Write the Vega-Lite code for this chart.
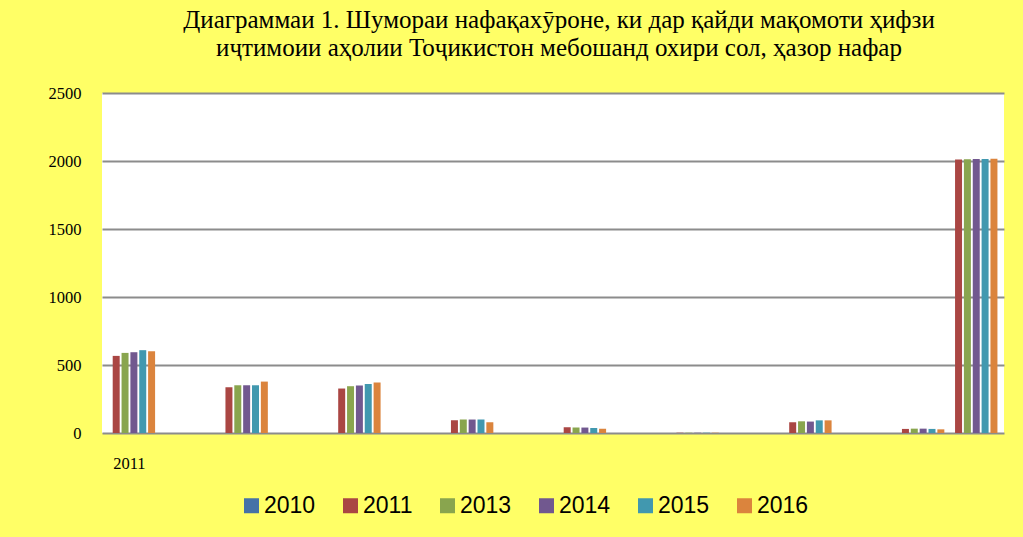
{
  "$schema": "https://vega.github.io/schema/vega-lite/v6.json",
  "width": 902,
  "height": 340,
  "autosize": {"type": "none"},
  "padding": {"left": 102, "top": 93, "right": 19, "bottom": 104},
  "background": "#FFFF66",
  "view": {"fill": "white", "stroke": null},
  "title": {
    "text": ["Диаграммаи 1. Шумораи нафақахӯроне, ки дар қайди мақомоти ҳифзи", "иҷтимоии аҳолии Тоҷикистон мебошанд охири сол, ҳазор нафар"],
    "font": "Liberation Serif",
    "fontSize": 25,
    "fontWeight": "normal",
    "lineHeight": 28,
    "color": "#000000",
    "anchor": "middle",
    "dx": 6,
    "offset": 24
  },
  "data": {
    "values": [
      {"cat": "A", "slot": "s01", "year": "2011", "value": 567},
      {"cat": "A", "slot": "s02", "year": "2013", "value": 589},
      {"cat": "A", "slot": "s03", "year": "2014", "value": 594},
      {"cat": "A", "slot": "s04", "year": "2015", "value": 609},
      {"cat": "A", "slot": "s05", "year": "2016", "value": 601},
      {"cat": "B", "slot": "s01", "year": "2011", "value": 336},
      {"cat": "B", "slot": "s02", "year": "2013", "value": 351},
      {"cat": "B", "slot": "s03", "year": "2014", "value": 351},
      {"cat": "B", "slot": "s04", "year": "2015", "value": 351},
      {"cat": "B", "slot": "s05", "year": "2016", "value": 378},
      {"cat": "C", "slot": "s01", "year": "2011", "value": 327},
      {"cat": "C", "slot": "s02", "year": "2013", "value": 344},
      {"cat": "C", "slot": "s03", "year": "2014", "value": 349},
      {"cat": "C", "slot": "s04", "year": "2015", "value": 361},
      {"cat": "C", "slot": "s05", "year": "2016", "value": 371},
      {"cat": "D", "slot": "s01", "year": "2011", "value": 93},
      {"cat": "D", "slot": "s02", "year": "2013", "value": 99},
      {"cat": "D", "slot": "s03", "year": "2014", "value": 99},
      {"cat": "D", "slot": "s04", "year": "2015", "value": 99},
      {"cat": "D", "slot": "s05", "year": "2016", "value": 79},
      {"cat": "E", "slot": "s01", "year": "2011", "value": 42},
      {"cat": "E", "slot": "s02", "year": "2013", "value": 40},
      {"cat": "E", "slot": "s03", "year": "2014", "value": 40},
      {"cat": "E", "slot": "s04", "year": "2015", "value": 37},
      {"cat": "E", "slot": "s05", "year": "2016", "value": 32},
      {"cat": "F", "slot": "s01", "year": "2011", "value": 2},
      {"cat": "F", "slot": "s02", "year": "2013", "value": 2},
      {"cat": "F", "slot": "s03", "year": "2014", "value": 2},
      {"cat": "F", "slot": "s04", "year": "2015", "value": 2},
      {"cat": "F", "slot": "s05", "year": "2016", "value": 2},
      {"cat": "G", "slot": "s01", "year": "2011", "value": 79},
      {"cat": "G", "slot": "s02", "year": "2013", "value": 86},
      {"cat": "G", "slot": "s03", "year": "2014", "value": 84},
      {"cat": "G", "slot": "s04", "year": "2015", "value": 93},
      {"cat": "G", "slot": "s05", "year": "2016", "value": 93},
      {"cat": "H", "slot": "s01", "year": "2011", "value": 30},
      {"cat": "H", "slot": "s02", "year": "2013", "value": 32},
      {"cat": "H", "slot": "s03", "year": "2014", "value": 32},
      {"cat": "H", "slot": "s04", "year": "2015", "value": 30},
      {"cat": "H", "slot": "s05", "year": "2016", "value": 27},
      {"cat": "H", "slot": "s07", "year": "2011", "value": 2011},
      {"cat": "H", "slot": "s08", "year": "2013", "value": 2013},
      {"cat": "H", "slot": "s09", "year": "2014", "value": 2014},
      {"cat": "H", "slot": "s10", "year": "2015", "value": 2015},
      {"cat": "H", "slot": "s11", "year": "2016", "value": 2016}
    ]
  },
  "mark": {"type": "bar"},
  "encoding": {
    "x": {
      "field": "cat",
      "type": "nominal",
      "scale": {"domain": ["A", "B", "C", "D", "E", "F", "G", "H"], "paddingInner": 0, "paddingOuter": 0},
      "axis": {
        "title": null,
        "labelExpr": "datum.value === 'A' ? '2011' : ''",
        "labelAngle": 0,
        "labelOffset": -29,
        "labelPadding": 22,
        "labelFont": "Liberation Serif",
        "labelFontSize": 16.5,
        "labelColor": "#000000",
        "domain": false,
        "ticks": false,
        "grid": false
      }
    },
    "xOffset": {
      "field": "slot",
      "type": "nominal",
      "scale": {
        "domain": ["s00", "s01", "s02", "s03", "s04", "s05", "s06", "s07", "s08", "s09", "s10", "s11"],
        "paddingInner": 0.21,
        "paddingOuter": 0.475,
        "align": 0.22
      }
    },
    "y": {
      "field": "value",
      "type": "quantitative",
      "scale": {"domain": [0, 2500], "nice": false},
      "axis": {
        "title": null,
        "values": [0, 500, 1000, 1500, 2000, 2500],
        "format": "d",
        "labelFont": "Liberation Serif",
        "labelFontSize": 16.5,
        "labelColor": "#000000",
        "labelPadding": 21,
        "domain": false,
        "ticks": false,
        "gridColor": "#8c8c8c",
        "gridWidth": 2,
        "gridOpacity": 1
      }
    },
    "color": {
      "field": "year",
      "type": "nominal",
      "scale": {
        "domain": ["2010", "2011", "2013", "2014", "2015", "2016"],
        "range": ["#4572A7", "#AA4643", "#89A54E", "#71588F", "#4198AF", "#DB843D"]
      },
      "legend": {
        "title": null,
        "orient": "none",
        "direction": "horizontal",
        "legendX": 138,
        "legendY": 401,
        "padding": 0,
        "symbolType": "square",
        "symbolSize": 225,
        "symbolStrokeWidth": 0,
        "symbolOpacity": 1,
        "labelFont": "Liberation Sans",
        "labelFontSize": 23,
        "labelColor": "#000000",
        "labelOffset": 1,
        "columnPadding": 23
      }
    }
  }
}
